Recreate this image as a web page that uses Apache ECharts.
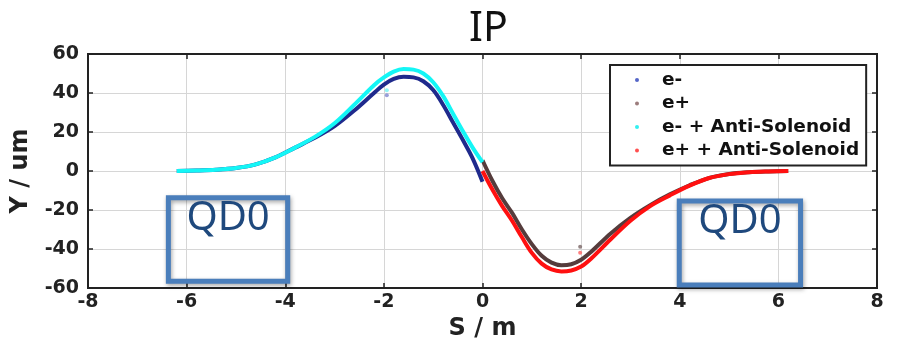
<!DOCTYPE html>
<html>
<head>
<meta charset="utf-8">
<script src="https://cdn.jsdelivr.net/npm/echarts@6/dist/echarts.min.js"></script>
<style>
  html, body { margin: 0; padding: 0; background: #ffffff; }
  #chart { width: 900px; height: 344px; }
</style>
</head>
<body>
<div id="chart"></div>
<script>
// Orbit offset Y (um) along S (m) on either side of the IP
const sElectron = [-6.2, -5.8, -5.4, -5.0, -4.6, -4.2, -3.8, -3.4, -3.0, -2.6, -2.2, -2.0, -1.8, -1.6, -1.4, -1.2, -1.0, -0.8, -0.6, -0.4, -0.2, 0];
const yElectron = [0, 0.2, 0.6, 1.5, 3.4, 7, 12, 17, 23, 31, 40, 44.3, 47.2, 48.3, 48, 46, 41.5, 34, 25, 16, 6.5, -5.5];
const yElectronAS = [0, 0.2, 0.6, 1.5, 3.4, 7, 12, 17.5, 24.5, 34, 44, 48, 51, 52.3, 52, 50, 45.5, 38.5, 29.5, 20.5, 12, 4.5];

const sPositron = [0, 0.2, 0.4, 0.6, 0.8, 1.0, 1.2, 1.4, 1.6, 1.8, 2.0, 2.2, 2.6, 3.0, 3.4, 3.8, 4.2, 4.6, 5.0, 5.4, 5.8, 6.2];
const yPositron = [5.5, -5, -14, -21.5, -30, -37.5, -43.5, -47, -48.3, -47.8, -45.5, -41.5, -32, -24, -17.5, -12, -7.3, -3.5, -1.5, -0.6, -0.2, 0];
const yPositronAS = [0, -9.5, -18, -25.5, -34, -42, -47.5, -50.5, -51.5, -51, -49, -45, -35, -25.5, -18, -12.5, -7.5, -3.6, -1.6, -0.6, -0.2, 0];

// Isolated samples near S = -2 and S = +2
const strayElectron = [[-1.94, 38.8]];
const strayElectronAS = [[-1.94, 41.4]];
const strayPositron = [[1.98, -38.8]];
const strayPositronAS = [[1.98, -41.9]];

// Final focusing quadrupole regions: [S from, S to, Y top, Y bottom]
const qd0Regions = [[-6.37, -3.95, -13.7, -56.5], [3.99, 6.45, -15.4, -58.5]];

const seriesNames = ['e-', 'e+', 'e- + Anti-Solenoid', 'e+ + Anti-Solenoid'];
const seriesColors = ['#1f2a8c', '#553c3c', '#14f6f6', '#ff1010'];
const legendColors = ['#5566c8', '#9c7d7d', '#33f0f0', '#ff5050'];

const xTicks = { min: -8, max: 8, interval: 2 };
const yTicks = { min: -60, max: 60, interval: 20 };

function pairs(xs, ys) { return xs.map((x, i) => [x, ys[i]]); }

const axisFont = 'DejaVu Sans, Verdana, sans-serif';
const tickLabel = { color: '#222', fontSize: 19, fontWeight: 'bold', fontFamily: axisFont };
const frameLine = { show: true, onZero: false, lineStyle: { color: '#222', width: 2 } };
const frameTick = { show: true, inside: true, length: 5, lineStyle: { color: '#222', width: 1.5 } };

function curve(idx, xs, ys) {
  return {
    name: seriesNames[idx], type: 'line', data: pairs(xs, ys),
    smooth: 0.35, showSymbol: false, symbol: 'circle', symbolSize: 4,
    lineStyle: { color: seriesColors[idx], width: 4 },
    itemStyle: { color: legendColors[idx] },
    emphasis: { disabled: true }, z: 3 + idx
  };
}
function dots(color, pts) {
  return { type: 'scatter', data: pts, symbolSize: 4, itemStyle: { color: color }, z: 8, silent: true };
}

const chart = echarts.init(document.getElementById('chart'), null, { renderer: 'canvas' });
chart.setOption({
  animation: false,
  backgroundColor: '#ffffff',
  title: {
    text: 'IP', left: 464, top: 4,
    textStyle: { fontFamily: 'Noto Sans, Open Sans, sans-serif', fontWeight: 'normal', fontSize: 41, color: '#111' }
  },
  grid: {
    left: 88, right: 23, top: 54, bottom: 56, containLabel: false, outerBoundsMode: 'none',
    show: true, borderColor: '#222', borderWidth: 2, backgroundColor: 'transparent'
  },
  legend: {
    orient: 'vertical', left: 610, top: 65,
    data: seriesNames.map(n => ({ name: n, icon: 'circle' })),
    itemWidth: 4, itemHeight: 4, itemGap: 3.5,
    padding: [5, 7, 5, 25],
    backgroundColor: '#ffffff', borderColor: '#222', borderWidth: 2,
    textStyle: { fontSize: 18.5, fontWeight: 'bold', fontFamily: axisFont, color: '#111', lineHeight: 20, padding: [0, 0, 0, 18] },
    selectedMode: false, z: 20
  },
  xAxis: [
    {
      type: 'value', min: xTicks.min, max: xTicks.max, interval: xTicks.interval,
      name: 'S / m', nameLocation: 'middle', nameGap: 25,
      nameTextStyle: { color: '#222', fontSize: 24, fontWeight: 'bold', fontFamily: axisFont },
      axisLine: frameLine, axisTick: frameTick,
      axisLabel: Object.assign({ margin: 5 }, tickLabel),
      splitLine: { show: true, lineStyle: { color: '#d6d6d6', width: 1 } }
    },
    {
      type: 'value', position: 'top', min: xTicks.min, max: xTicks.max, interval: xTicks.interval,
      axisLine: frameLine, axisTick: frameTick,
      axisLabel: { show: false }, splitLine: { show: false }
    }
  ],
  yAxis: [
    {
      type: 'value', min: yTicks.min, max: yTicks.max, interval: yTicks.interval,
      name: 'Y / um', nameLocation: 'middle', nameGap: 55, nameRotate: 90,
      nameTextStyle: { color: '#222', fontSize: 24, fontWeight: 'bold', fontFamily: axisFont },
      axisLine: frameLine, axisTick: frameTick,
      axisLabel: Object.assign({ margin: 9 }, tickLabel),
      splitLine: { show: true, lineStyle: { color: '#d6d6d6', width: 1 } }
    },
    {
      type: 'value', position: 'right', min: yTicks.min, max: yTicks.max, interval: yTicks.interval,
      axisLine: frameLine, axisTick: frameTick,
      axisLabel: { show: false }, splitLine: { show: false }
    }
  ],
  series: [
    curve(0, sElectron, yElectron),
    curve(1, sPositron, yPositron),
    curve(2, sElectron, yElectronAS),
    curve(3, sPositron, yPositronAS),
    dots('#7f86cf', strayElectron),
    dots('#77f3f3', strayElectronAS),
    dots('#7a6666', strayPositron),
    dots('#ff6060', strayPositronAS),
    {
      type: 'line', data: [], silent: true, clip: false, z: 10,
      markArea: {
        silent: true,
        itemStyle: {
          color: 'rgba(0,0,0,0)', borderColor: '#4a7ebb', borderWidth: 5,
          shadowColor: 'rgba(0,0,0,0.35)', shadowBlur: 4, shadowOffsetX: 1, shadowOffsetY: 2
        },
        label: {
          show: true, position: 'insideTop', distance: 3,
          color: '#1f497d', fontSize: 40, fontFamily: 'Noto Sans, Open Sans, sans-serif'
        },
        data: qd0Regions.map(r => [
          { name: 'QD0', coord: [r[0], r[2]] },
          { coord: [r[1], r[3]] }
        ])
      }
    }
  ]
});
</script>
</body>
</html>
